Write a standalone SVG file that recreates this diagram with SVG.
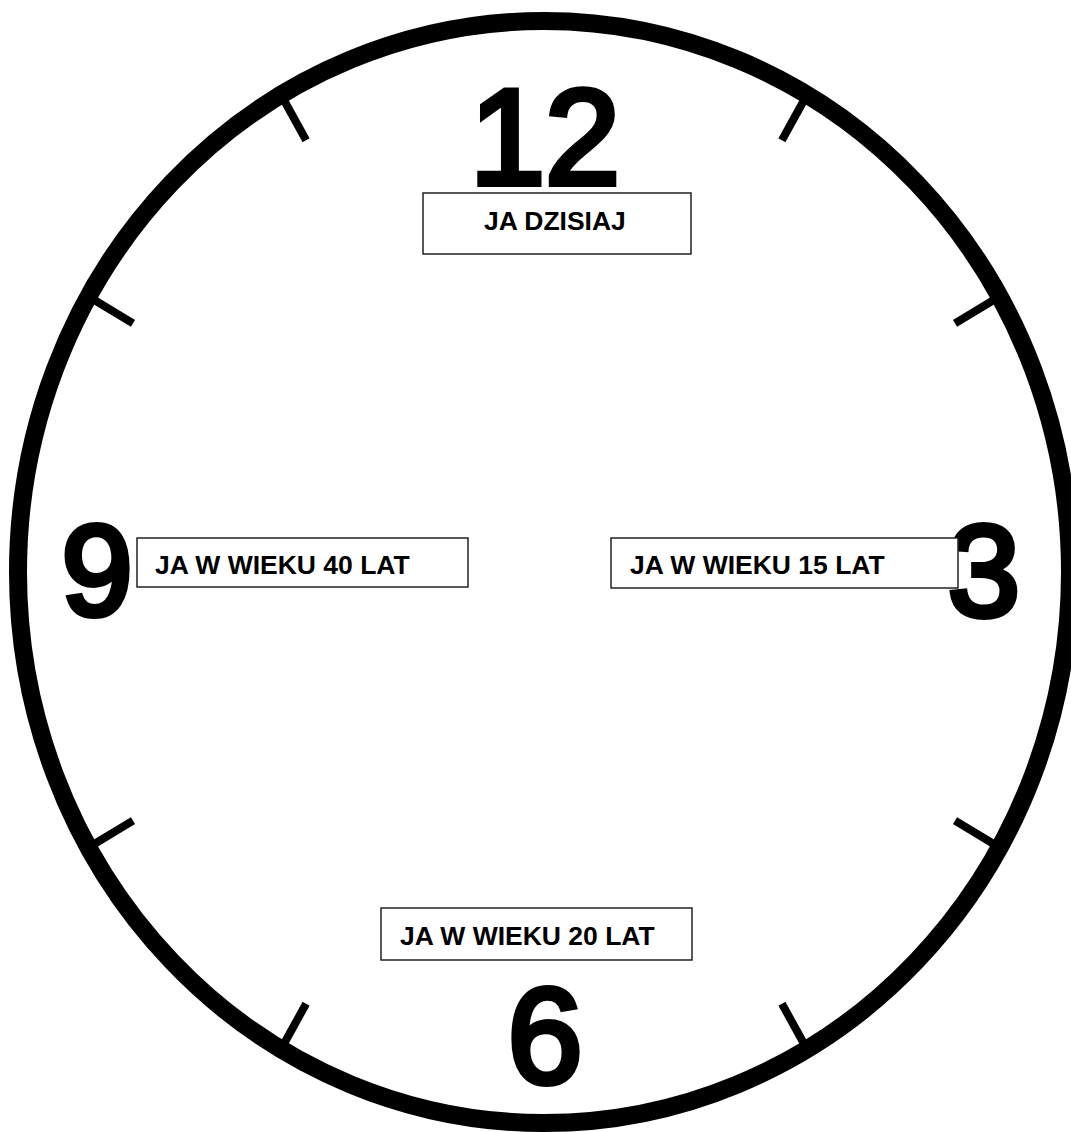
<svg xmlns="http://www.w3.org/2000/svg" width="1071" height="1132" viewBox="0 0 1071 1132">
<style>
.ring{fill:none;stroke:#000;stroke-width:18}
.tick{stroke:#000;stroke-width:8;stroke-linecap:butt}
.num{font-family:"Liberation Sans",Arial,sans-serif;font-weight:normal;fill:#000;stroke:#000;stroke-width:6;stroke-linejoin:miter;text-anchor:middle}
.box{fill:#fff;stroke:#222;stroke-width:1.5}
.lbl{font-family:"Liberation Sans",Arial,sans-serif;font-weight:bold;font-size:26.5px;fill:#000}
</style>
<rect width="1071" height="1132" fill="#fff"/>
<g id="clock-face">
<ellipse class="ring" cx="544" cy="572" rx="526" ry="551"/>
</g>
<g id="ticks">
<line class="tick" x1="807" y1="94.8" x2="781.9" y2="140.3"/>
<line class="tick" x1="999.5" y1="296.5" x2="955" y2="323.4"/>
<line class="tick" x1="999.5" y1="847.5" x2="955" y2="820.6"/>
<line class="tick" x1="807" y1="1049.2" x2="781.9" y2="1003.7"/>
<line class="tick" x1="281" y1="1049.2" x2="306.1" y2="1003.7"/>
<line class="tick" x1="88.5" y1="847.5" x2="133" y2="820.6"/>
<line class="tick" x1="88.5" y1="296.5" x2="133" y2="323.4"/>
<line class="tick" x1="281" y1="94.8" x2="306.1" y2="140.3"/>
</g>
<g id="numerals">
<text class="num" x="545" y="184" font-size="135">12</text>
<text class="num" x="97" y="615" font-size="128">9</text>
<text class="num" x="984" y="616" font-size="130">3</text>
<text class="num" x="545" y="1083" font-size="135">6</text>
</g>
<g id="node-dzisiaj">
<rect class="box" x="423" y="193" width="268" height="61"/>
<text class="lbl" x="484" y="230">JA DZISIAJ</text>
</g>
<g id="node-40">
<rect class="box" x="137" y="538" width="331" height="49"/>
<text class="lbl" x="155" y="574">JA W WIEKU 40 LAT</text>
</g>
<g id="node-15">
<rect class="box" x="611" y="538" width="347" height="50"/>
<text class="lbl" x="630" y="574">JA W WIEKU 15 LAT</text>
</g>
<g id="node-20">
<rect class="box" x="381" y="908" width="311" height="52"/>
<text class="lbl" x="400" y="945">JA W WIEKU 20 LAT</text>
</g>
</svg>
